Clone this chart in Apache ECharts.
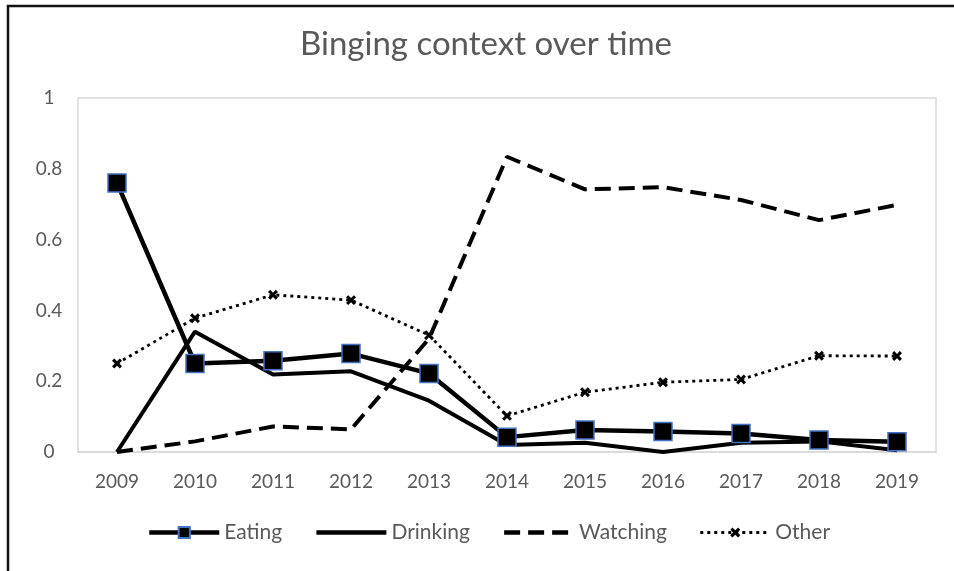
<!DOCTYPE html>
<html>
<head>
<meta charset="utf-8">
<script src="https://cdn.jsdelivr.net/npm/echarts@6/dist/echarts.min.js"></script>
<style>
html,body{margin:0;padding:0;background:#fff;}
#chart{width:954px;height:571px;}
</style>
</head>
<body>
<div id="chart"></div>
<script>
const years = ['2009','2010','2011','2012','2013','2014','2015','2016','2017','2018','2019'];
const eating   = [0.76, 0.25, 0.258, 0.278, 0.222, 0.042, 0.062, 0.058, 0.052, 0.034, 0.029];
const drinking = [0.0, 0.34, 0.219, 0.228, 0.145, 0.02, 0.026, 0.0, 0.026, 0.03, 0.005];
const watching = [0.0, 0.03, 0.072, 0.064, 0.32, 0.834, 0.742, 0.748, 0.712, 0.655, 0.698];
const other    = [0.25, 0.378, 0.444, 0.429, 0.33, 0.102, 0.169, 0.197, 0.205, 0.272, 0.271];
const yTicks = [0, 0.2, 0.4, 0.6, 0.8, 1];

const FONT = 'Lato, "Liberation Sans", sans-serif';
const GREY = '#595959';
const xPath = 'path://M3.6,0H6.4V3.6H10V6.4H6.4V10H3.6V6.4H0V3.6H3.6Z';
const noMark = {color: 'rgba(0,0,0,0)', borderColor: 'rgba(0,0,0,0)', borderWidth: 0};

const chart = echarts.init(document.getElementById('chart'), null, {renderer: 'canvas'});
chart.setOption({
  animation: false,
  backgroundColor: '#fff',
  title: {
    text: 'Binging context over time',
    left: 300,
    top: 28,
    padding: 0,
    textStyle: {fontFamily: FONT, fontSize: 33, fontWeight: 'normal', color: GREY}
  },
  graphic: [{
    type: 'rect',
    shape: {x: 8, y: 6, width: 1200, height: 800},
    style: {fill: 'none', stroke: '#111', lineWidth: 2.5},
    silent: true, z: 100
  }],
  grid: {
    left: 78, right: 18, top: 98, bottom: 119,
    show: true, borderColor: '#D9D9D9', borderWidth: 1.5, backgroundColor: 'transparent'
  },
  legend: {
    left: 142, top: 517,
    itemWidth: 70, itemHeight: 14, itemGap: 32,
    lineStyle: {width: 4.5},
    textStyle: {fontFamily: FONT, fontSize: 21, color: GREY},
    data: [
      {name: 'Eating'},
      {name: 'Drinking', itemStyle: noMark},
      {name: 'Watching', itemStyle: noMark},
      {name: 'Other', lineStyle: {width: 2.8}}
    ]
  },
  xAxis: {
    type: 'category',
    data: years,
    boundaryGap: true,
    axisLine: {lineStyle: {color: '#D9D9D9', width: 1.5}},
    axisTick: {show: false},
    axisLabel: {fontFamily: FONT, fontSize: 19, color: GREY, margin: 20},
    splitLine: {show: false}
  },
  yAxis: {
    type: 'value',
    min: 0, max: 1, interval: 0.2,
    axisLine: {show: false},
    axisTick: {show: false},
    splitLine: {show: false},
    axisLabel: {
      fontFamily: FONT, fontSize: 19, color: GREY, margin: 29, align: 'center',
      formatter: v => { const t = yTicks.find(x => Math.abs(x - v) < 1e-9); return String(t !== undefined ? t : v); }
    }
  },
  series: [
    {
      name: 'Watching', type: 'line', data: watching, symbol: 'none', z: 2,
      lineStyle: {color: '#000', width: 4, type: [16, 8]},
      itemStyle: {color: '#000'}
    },
    {
      name: 'Other', type: 'line', data: other, symbol: xPath, symbolSize: 11, symbolRotate: 45, z: 2,
      lineStyle: {color: '#000', width: 2.8, type: [3, 4]},
      itemStyle: {color: '#000'}
    },
    {
      name: 'Drinking', type: 'line', data: drinking, symbol: 'none', z: 3,
      lineStyle: {color: '#000', width: 4},
      itemStyle: {color: '#000'}
    },
    {
      name: 'Eating', type: 'line', data: eating, symbol: 'rect', symbolSize: 18, z: 4,
      lineStyle: {color: '#000', width: 4.5},
      itemStyle: {color: '#000', borderColor: '#4472C4', borderWidth: 1.5}
    }
  ]
});
</script>
</body>
</html>
